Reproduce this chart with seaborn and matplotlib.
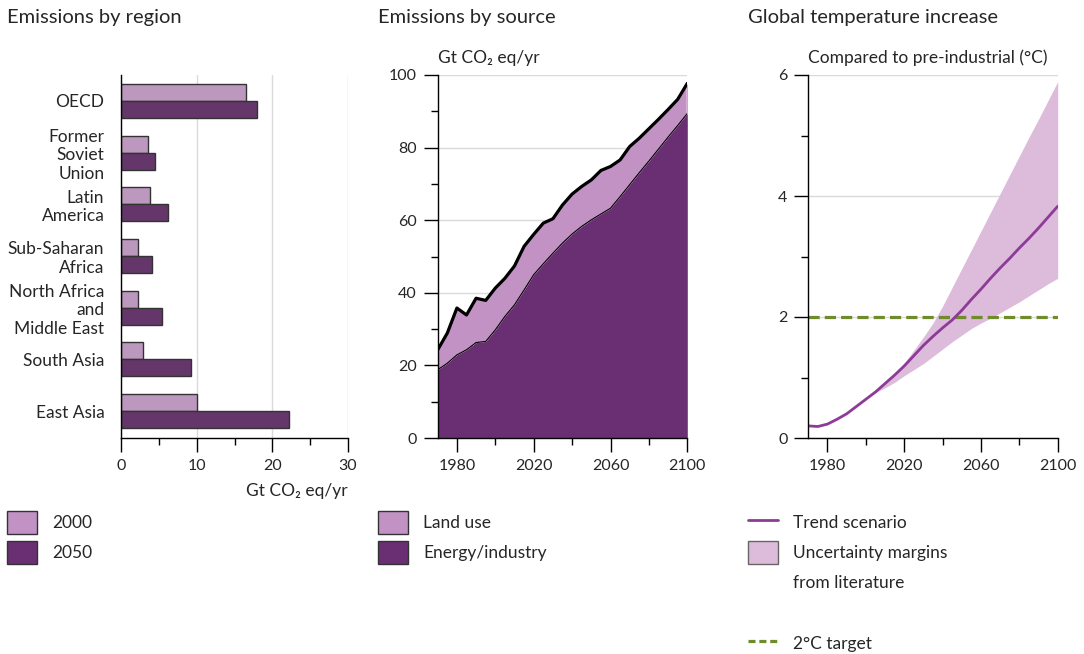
import numpy as np
import pandas as pd
import matplotlib.pyplot as plt
import seaborn as sns
from matplotlib.patches import Patch
from matplotlib.lines import Line2D
from matplotlib.ticker import MultipleLocator

sns.set_style("white")
plt.rcParams['font.family'] = ['Lato', 'DejaVu Sans']

# Emissions by region (Gt CO2 eq/yr)
regions = ["OECD", "Former\nSoviet\nUnion", "Latin\nAmerica", "Sub-Saharan\nAfrica",
           "North Africa\nand\nMiddle East", "South Asia", "East Asia"]
emis_2000 = [16.5, 3.6, 3.8, 2.3, 2.3, 2.9, 10.0]
emis_2050 = [18.0, 4.5, 6.2, 4.1, 5.4, 9.3, 22.2]

# Emissions by source (Gt CO2 eq/yr)
years = [1970, 1975, 1980, 1985, 1990, 1995, 2000, 2005, 2010, 2015, 2020, 2025, 2030, 2035,
         2040, 2045, 2050, 2055, 2060, 2065, 2070, 2075, 2080, 2085, 2090, 2095, 2100]
energy = [18.8, 20.6, 22.9, 24.3, 26.3, 26.6, 29.8, 33.5, 36.7, 40.8, 45.0, 48.0, 50.9, 53.7,
          56.2, 58.3, 60.1, 61.7, 63.3, 66.5, 69.8, 73.1, 76.3, 79.6, 82.9, 86.1, 89.4]
total = [24.3, 28.9, 35.8, 33.9, 38.5, 37.9, 41.3, 44.0, 47.4, 52.8, 56.1, 59.2, 60.4, 64.2,
         67.2, 69.3, 71.1, 73.7, 74.8, 76.6, 80.3, 82.6, 85.2, 87.8, 90.5, 93.3, 97.7]

# Global temperature increase (deg C)
trend = [0.20, 0.19, 0.23, 0.31, 0.40, 0.52, 0.64, 0.76, 0.90, 1.04, 1.19, 1.36, 1.53, 1.68,
         1.82, 1.95, 2.11, 2.29, 2.46, 2.64, 2.81, 2.97, 3.14, 3.30, 3.47, 3.65, 3.83]
low = [0.20, 0.19, 0.23, 0.31, 0.40, 0.52, 0.64, 0.75, 0.83, 0.92, 1.03, 1.13, 1.23, 1.35,
       1.47, 1.59, 1.70, 1.81, 1.90, 1.98, 2.07, 2.16, 2.25, 2.35, 2.45, 2.55, 2.64]
high = [0.20, 0.19, 0.23, 0.31, 0.40, 0.52, 0.64, 0.76, 0.91, 1.07, 1.24, 1.45, 1.67, 1.90,
        2.18, 2.49, 2.80, 3.11, 3.42, 3.73, 4.04, 4.35, 4.66, 4.97, 5.27, 5.58, 5.89]
target = 2.0

light = "#c292c4"
dark = "#6a2e72"
band = "#dcbbdb"
trend_col = "#8e3b98"
green = "#6f8b2c"
grid_col = "#dadada"
edge = "#333333"

fig = plt.figure(figsize=(10.84, 6.54), dpi=100)
W, H = 1084, 654


def box(x0, x1, y0, y1):
    return [x0 / W, 1 - y1 / H, (x1 - x0) / W, (y1 - y0) / H]


tick_fs = 11.5
text_fs = 12.5
title_fs = 14.5

# ---- Panel 1: emissions by region
ax1 = fig.add_axes(box(121, 348, 75, 438))
df = pd.DataFrame({
    "region": regions * 2,
    "year": ["2000"] * len(regions) + ["2050"] * len(regions),
    "value": emis_2000 + emis_2050,
})
sns.barplot(data=df, y="region", x="value", hue="year", palette=[light, dark],
            orient="h", width=0.66, edgecolor=edge, linewidth=1, ax=ax1, legend=False)
ax1.set_xlim(0, 30)
ax1.set_ylim(6.52, -0.5)
ax1.xaxis.set_major_locator(MultipleLocator(10))
ax1.xaxis.set_minor_locator(MultipleLocator(5))
ax1.grid(axis="x", color=grid_col, lw=1)
ax1.set_axisbelow(True)
ax1.set_xlabel("Gt CO\u2082 eq/yr", fontsize=text_fs, ha="right", x=1.0, labelpad=7)
ax1.set_ylabel("")
ax1.tick_params(axis="y", length=0, pad=12, labelsize=text_fs)
for lab in ax1.get_yticklabels():
    lab.set_multialignment("right")
    lab.set_linespacing(1.2)
ax1.tick_params(axis="x", which="major", bottom=True, length=10, width=1, color="black",
                labelsize=tick_fs, pad=5)
ax1.tick_params(axis="x", which="minor", bottom=True, length=5, width=1, color="black")
for s in ["top", "right"]:
    ax1.spines[s].set_visible(False)
for s in ["left", "bottom"]:
    ax1.spines[s].set_color("black")
    ax1.spines[s].set_linewidth(1)

# ---- Panel 2: emissions by source
ax2 = fig.add_axes(box(437.7, 687.3, 75, 438))
ax2.fill_between(years, 0, energy, color=dark, lw=0)
ax2.fill_between(years, energy, total, color=light, lw=0)
ax2.vlines(years[-1], energy[-1], total[-1], color="#d8b0d8", lw=1.5)
sns.lineplot(x=years, y=energy, color="black", lw=0.8, ax=ax2)
sns.lineplot(x=years, y=total, color="black", lw=2.3, ax=ax2)
ax2.set_xlim(1970, 2100)
ax2.set_ylim(0, 100)
ax2.set_xticks([1980, 2020, 2060, 2100])
ax2.set_xticks([2000, 2040, 2080], minor=True)
ax2.yaxis.set_major_locator(MultipleLocator(20))
ax2.yaxis.set_minor_locator(MultipleLocator(10))
ax2.grid(axis="y", color=grid_col, lw=1)
ax2.set_axisbelow(True)
ax2.text(0, 1.025, "Gt CO\u2082 eq/yr", transform=ax2.transAxes, fontsize=text_fs,
         ha="left", va="bottom")

# ---- Panel 3: global temperature increase
ax3 = fig.add_axes(box(808.3, 1057.7, 75, 438))
ax3.fill_between(years, low, high, color=band, lw=0)
ax3.axhline(target, color=green, lw=2.3, dashes=(3.5, 1.6))
sns.lineplot(x=years, y=trend, color=trend_col, lw=2.0, ax=ax3)
ax3.set_xlim(1970, 2100)
ax3.set_ylim(0, 6)
ax3.set_xticks([1980, 2020, 2060, 2100])
ax3.set_xticks([2000, 2040, 2080], minor=True)
ax3.yaxis.set_major_locator(MultipleLocator(2))
ax3.yaxis.set_minor_locator(MultipleLocator(1))
ax3.grid(axis="y", color=grid_col, lw=1)
ax3.set_axisbelow(True)
ax3.text(0, 1.025, "Compared to pre-industrial (\u00b0C)", transform=ax3.transAxes,
         fontsize=text_fs, ha="left", va="bottom")

for ax in (ax2, ax3):
    for s in ["top", "right"]:
        ax.spines[s].set_visible(False)
    for s in ["left", "bottom"]:
        ax.spines[s].set_color("black")
        ax.spines[s].set_linewidth(1)
    ax.tick_params(which="major", bottom=True, left=True, length=10, width=1,
                   color="black", labelsize=tick_fs, pad=5)
    ax.tick_params(which="minor", bottom=True, left=True, length=5, width=1, color="black")
    ax.set_xlabel("")
    ax.set_ylabel("")

# ---- titles
fig.text(7 / W, 1 - 18 / H, "Emissions by region", fontsize=title_fs, va="center")
fig.text(378 / W, 1 - 18 / H, "Emissions by source", fontsize=title_fs, va="center")
fig.text(748 / W, 1 - 18 / H, "Global temperature increase", fontsize=title_fs, va="center")

# ---- legends
leg_kw = dict(frameon=False, fontsize=text_fs, handlelength=1.73, handleheight=1.66,
              handletextpad=0.86, labelspacing=0.4, borderpad=0, borderaxespad=0,
              loc="upper left", bbox_transform=fig.transFigure)

fig.legend(handles=[Patch(facecolor=light, edgecolor=edge, lw=1),
                    Patch(facecolor=dark, edgecolor=edge, lw=1)],
           labels=["2000", "2050"], bbox_to_anchor=(7 / W, 1 - 511 / H), **leg_kw)
fig.legend(handles=[Patch(facecolor=light, edgecolor=edge, lw=1),
                    Patch(facecolor=dark, edgecolor=edge, lw=1)],
           labels=["Land use", "Energy/industry"], bbox_to_anchor=(378 / W, 1 - 511 / H), **leg_kw)
fig.legend(handles=[Line2D([], [], color=trend_col, lw=2.0),
                    Patch(facecolor=band, edgecolor="#666666", lw=1),
                    Patch(facecolor="none", edgecolor="none")],
           labels=["Trend scenario", "Uncertainty margins", "from literature"],
           bbox_to_anchor=(748 / W, 1 - 511 / H), **leg_kw)
fig.legend(handles=[Line2D([], [], color=green, lw=2.3, dashes=(2.2, 1.2))],
           labels=["2\u00b0C target"], bbox_to_anchor=(748 / W, 1 - 632 / H), **leg_kw)

fig.savefig("out.png", dpi=100)
